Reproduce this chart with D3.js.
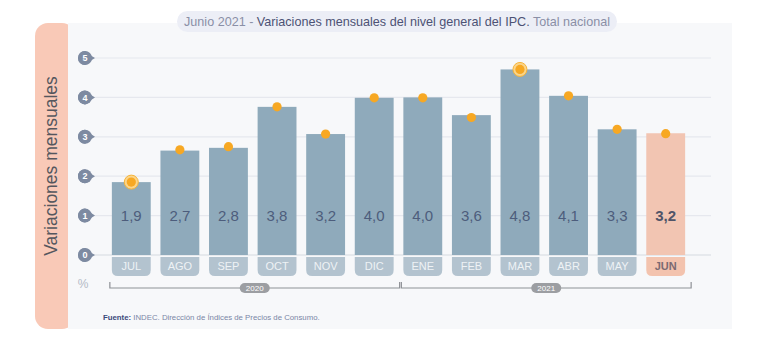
<!DOCTYPE html>
<html>
<head>
<meta charset="utf-8">
<script src="https://cdn.jsdelivr.net/npm/d3@7"></script>
<style>
  html,body{margin:0;padding:0;background:#ffffff;}
  svg{display:block;font-family:"Liberation Sans", Arial, sans-serif;}
</style>
</head>
<body>
<svg id="chart" width="768" height="341"></svg>
<script>
// ---- data ----
const months = ["JUL","AGO","SEP","OCT","NOV","DIC","ENE","FEB","MAR","ABR","MAY","JUN"];
const valueLabels = ["1,9","2,7","2,8","3,8","3,2","4,0","4,0","3,6","4,8","4,1","3,3","3,2"];
const barValues = [1.85, 2.65, 2.72, 3.76, 3.07, 3.99, 4.0, 3.55, 4.71, 4.04, 3.19, 3.09];
const dotValues = [1.85, 2.67, 2.75, 3.76, 3.07, 3.99, 3.99, 3.49, 4.71, 4.04, 3.19, 3.08];
const haloMonths = ["JUL","MAR"];
const yTicks = [0,1,2,3,4,5];
const years = [
  {label:"2020", from:"JUL", to:"DIC"},
  {label:"2021", from:"ENE", to:"JUN"}
];
const currentMonth = "JUN";

const svg = d3.select("#chart");

// background card
svg.append("rect").attr("x",35).attr("y",23).attr("width",40).attr("height",306)
  .attr("rx",13).attr("fill","#f9c9b7");
svg.append("rect").attr("x",68).attr("y",23).attr("width",664).attr("height",306)
  .attr("fill","#f7f8fa");

// title pill
const titleG = svg.append("g");
titleG.append("rect").attr("x",177).attr("y",11).attr("width",440).attr("height",21)
  .attr("rx",10.5).attr("fill","#eceef6");
const title = titleG.append("text").attr("x",397).attr("y",26).attr("text-anchor","middle")
  .attr("font-size",12.6);
title.append("tspan").attr("fill","#8a8fa6").text("Junio 2021 - ");
title.append("tspan").attr("fill","#4c5275").text("Variaciones mensuales del nivel general del IPC.");
title.append("tspan").attr("fill","#8a8fa6").text(" Total nacional");

// y axis title
svg.append("text").attr("transform","translate(57,166) rotate(-90)")
  .attr("text-anchor","middle").attr("font-size",17.5).attr("fill","#55575e")
  .text("Variaciones mensuales");

// scales
const x = d3.scaleBand().domain(months).range([107, 690]).paddingInner(0.2).paddingOuter(0.1);
const y = d3.scaleLinear().domain([0,5]).range([255,58]);

// gridlines
svg.append("g").selectAll("line").data(yTicks).join("line")
  .attr("x1",93).attr("x2",711)
  .attr("y1",d=>y(d)).attr("y2",d=>y(d))
  .attr("stroke",d=>d===0?"#d6dae0":"#e6e8ee").attr("stroke-width",1.2);

// tick markers
const tk = svg.append("g").selectAll("g").data(yTicks).join("g")
  .attr("transform",d=>`translate(85,${y(d)})`);
tk.append("path").attr("d","M0,-7 A7,7 0 1,0 0,7 L3,5.5 Q6,2 10,0 Q6,-2 3,-5.5 Z")
  .attr("fill","#7d8aa1");
tk.append("circle").attr("r",7).attr("fill","#7d8aa1");
tk.append("text").attr("text-anchor","middle").attr("dy","0.35em")
  .attr("font-size",9).attr("font-weight","bold").attr("fill","#ffffff").text(d=>d);

// bars
const bars = svg.append("g");
bars.selectAll("rect").data(months).join("rect")
  .attr("x",d=>x(d)).attr("width",x.bandwidth())
  .attr("y",(d,i)=>y(barValues[i])).attr("height",(d,i)=>y(0)-y(barValues[i]))
  .attr("fill",d=>d===currentMonth?"#f2c5b2":"#8faabb");

// value labels
svg.append("g").selectAll("text").data(months).join("text")
  .attr("x",d=>x(d)+x.bandwidth()/2).attr("y",y(1)).attr("dy","0.36em")
  .attr("text-anchor","middle").attr("font-size",15)
  .attr("font-weight",d=>d===currentMonth?"bold":"normal")
  .attr("fill",d=>d===currentMonth?"#4f5468":"#4d5d7c")
  .text((d,i)=>valueLabels[i]);

// dots
const dots = svg.append("g");
dots.selectAll("circle.halo").data(months.filter(m=>haloMonths.includes(m))).join("circle")
  .attr("class","halo")
  .attr("cx",d=>x(d)+x.bandwidth()/2).attr("cy",d=>y(dotValues[months.indexOf(d)]))
  .attr("r",7).attr("fill","#fbd58a").attr("stroke","#f6b43a").attr("stroke-width",1);
dots.selectAll("circle.dot").data(months).join("circle")
  .attr("class","dot")
  .attr("cx",d=>x(d)+x.bandwidth()/2).attr("cy",(d,i)=>y(dotValues[i]))
  .attr("r",4.6).attr("fill","#f7a823");

// month pills
const pillTop = y(0)+2, pillH = 19, pr = 6;
const pills = svg.append("g").selectAll("g").data(months).join("g");
pills.append("path").attr("d",d=>{
  const x0 = x(d), w = x.bandwidth(), t = pillTop, b = pillTop+pillH;
  return `M${x0},${t} H${x0+w} V${b-pr} Q${x0+w},${b} ${x0+w-pr},${b} H${x0+pr} Q${x0},${b} ${x0},${b-pr} Z`;
}).attr("fill",d=>d===currentMonth?"#f3c3ae":"#b3c3cf");
pills.append("text").attr("x",d=>x(d)+x.bandwidth()/2).attr("y",pillTop+pillH/2).attr("dy","0.36em")
  .attr("text-anchor","middle").attr("font-size",11)
  .attr("font-weight",d=>d===currentMonth?"bold":"normal")
  .attr("fill",d=>d===currentMonth?"#7b6a72":"#eef2f5").text(d=>d);

// percent sign
svg.append("text").attr("x",83).attr("y",288).attr("text-anchor","middle")
  .attr("font-size",12).attr("fill","#b4bac6").text("%");

// year brackets
const by = 288;
const yg = svg.append("g").selectAll("g").data(years).join("g");
yg.append("path").attr("d",d=>{
  const a = x(d.from)-2, b = x(d.to)+x.bandwidth()+6;
  return `M${a},${by-6} V${by} H${b} V${by-6}`;
}).attr("fill","none").attr("stroke","#8e9196").attr("stroke-width",1.2);
yg.append("rect").attr("x",d=>(x(d.from)-2 + x(d.to)+x.bandwidth()+6)/2-15).attr("y",by-5)
  .attr("width",30).attr("height",10).attr("rx",5).attr("fill","#9c9ea2");
yg.append("text").attr("x",d=>(x(d.from)-2 + x(d.to)+x.bandwidth()+6)/2).attr("y",by).attr("dy","0.35em")
  .attr("text-anchor","middle").attr("font-size",8).attr("fill","#ffffff").text(d=>d.label);

// source
const src = svg.append("text").attr("x",103).attr("y",320).attr("font-size",7.8);
src.append("tspan").attr("font-weight","bold").attr("fill","#3b4a7a").text("Fuente:");
src.append("tspan").attr("fill","#7a86a6").text(" INDEC. Dirección de Índices de Precios de Consumo.");
</script>
</body>
</html>
